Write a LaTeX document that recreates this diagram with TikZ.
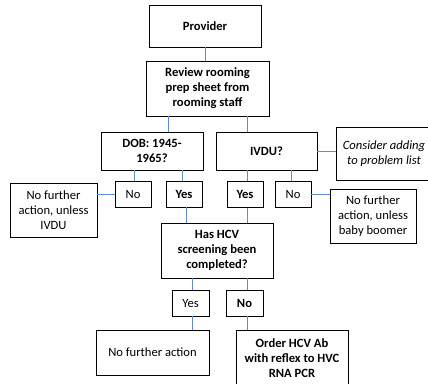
\documentclass[tikz,border=0pt]{standalone}
\usepackage{fontspec}
\setmainfont{Carlito}
\definecolor{connblue}{RGB}{95,140,212}
\begin{document}
\begin{tikzpicture}[x=1pt,y=-1pt,
  box/.style={draw=black, line width=0.8pt, align=center, inner sep=0pt, font=\fontsize{12.6}{15}\selectfont},
  bbox/.style={box, font=\fontsize{12.6}{15}\selectfont\bfseries},
  ibox/.style={box, font=\fontsize{12.6}{15}\selectfont\itshape},
  conn/.style={draw=connblue, line width=0.9pt}]
\useasboundingbox (0,0) rectangle (428,383);
\node[bbox, minimum width=112, minimum height=42] (prov) at (205,26) {Provider};
\node[bbox, minimum width=123, minimum height=55] (rev) at (207.5,88.5) {Review rooming\\prep sheet from\\rooming staff};
\node[bbox, minimum width=102, minimum height=38] (dob) at (152,151) {DOB: 1945-\\1965?};
\node[bbox, minimum width=101, minimum height=38] (ivdu) at (266.5,151) {IVDU?};
\node[ibox, minimum width=96, minimum height=53] (cons) at (384,153.5) {Consider adding\\to problem list};
\node[box, minimum width=36, minimum height=26] (noL) at (133,194) {No};
\node[bbox, minimum width=36, minimum height=26] (yesL) at (184,194) {Yes};
\node[bbox, minimum width=36, minimum height=26] (yesR) at (245,194.5) {Yes};
\node[box, minimum width=36, minimum height=26] (noR) at (293,194.5) {No};
\node[box, minimum width=87, minimum height=54] (nfa1) at (53.5,210) {No further\\action, unless\\IVDU};
\node[box, minimum width=86, minimum height=54] (nfa2) at (373,216) {No further\\action, unless\\baby boomer};
\node[bbox, minimum width=112, minimum height=55] (hcv) at (217,250.5) {Has HCV\\screening been\\completed?};
\node[box, minimum width=37, minimum height=26] (yesB) at (190.5,303) {Yes};
\node[bbox, minimum width=37, minimum height=26] (noB) at (244.5,303) {No};
\node[box, minimum width=113, minimum height=45] (nfa3) at (152.5,352.5) {No further action};
\node[bbox, minimum width=112, minimum height=56] (order) at (292,358) {Order HCV Ab\\with reflex to HVC\\RNA PCR};
% connectors
\draw[conn] (prov.south) -- (prov.south |- rev.north);
\draw[conn] (168,0 |- rev.south) -- (168,0 |- dob.north);
\draw[conn] (247,0 |- rev.south) -- (247,0 |- ivdu.north);
\draw[conn] (ivdu.east) -- (ivdu.east -| cons.west);
\draw[conn] (134,0 |- dob.south) -- (134,0 |- noL.north);
\draw[conn] (182,0 |- dob.south) -- (182,0 |- yesL.north);
\draw[conn] (247,0 |- ivdu.south) -- (247,0 |- yesR.north);
\draw[conn] (291,0 |- ivdu.south) -- (291,0 |- noR.north);
\draw[conn] (noL.west) -- (noL.west -| nfa1.east);
\draw[conn] (noR.east) -- (noR.east -| nfa2.west);
\draw[conn] (186,0 |- yesL.south) -- (186,0 |- hcv.north);
\draw[conn] (247,0 |- yesR.south) -- (247,0 |- hcv.north);
\draw[conn] (192,0 |- hcv.south) -- (192,0 |- yesB.north);
\draw[conn] (247,0 |- hcv.south) -- (247,0 |- noB.north);
\draw[conn] (192,0 |- yesB.south) -- (192,0 |- nfa3.north);
\draw[conn] (247,0 |- noB.south) -- (247,0 |- order.north);
\end{tikzpicture}
\end{document}
